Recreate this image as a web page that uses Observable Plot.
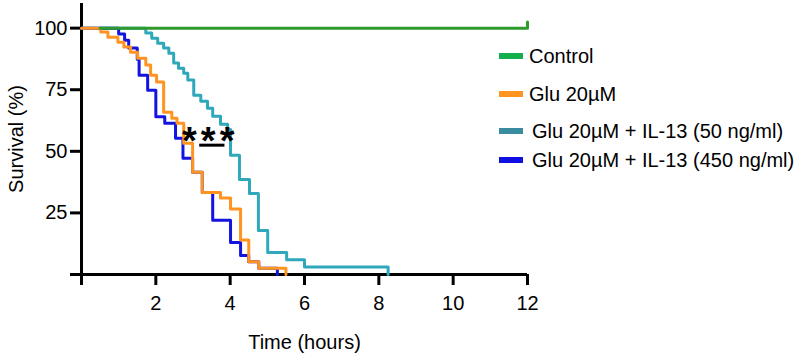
<!DOCTYPE html>
<html>
<head>
<meta charset="utf-8">
<script src="https://cdn.jsdelivr.net/npm/d3@7"></script>
<script src="https://cdn.jsdelivr.net/npm/@observablehq/plot@0.6"></script>
<style>
  html, body { margin: 0; padding: 0; background: #fff; }
  #wrap { position: relative; width: 803px; height: 356px; font-family: "Liberation Sans", Arial, sans-serif; }
  .lg { position: absolute; font-size: 20px; line-height: 22px; color: #000; white-space: nowrap; }
  .sw { position: absolute; width: 24px; height: 6px; }
</style>
</head>
<body>
<div id="wrap"></div>
<script>
// ---- data (time in hours, survival in %) ----
const seriesNames = ["Control", "Glu 20µM", "Glu 20µM + IL-13 (50 ng/ml)", "Glu 20µM + IL-13 (450 ng/ml)"];
const lineColors = ["#2f9a2c", "#ff9520", "#2fa8bb", "#1414e0"];
const swatchColors = ["#14ae4f", "#ff9520", "#3a8c9f", "#1010e0"];

const control = [[0.5, 100], [12, 100], [12, 102.5]];
const glu20 = [[0,100],[0.52,98.4],[0.71,96.3],[0.98,94.3],[1.14,92.3],[1.32,90.2],[1.51,87.8],[1.73,85.0],[1.86,80.9],[2.02,78.1],[2.21,65.9],[2.43,63.4],[2.57,61.4],[2.75,53.3],[2.99,41.5],[3.25,33.3],[3.74,31.1],[4.01,26.6],[4.28,14.0],[4.50,5.2],[4.77,2.5],[5.50,0]];
const il13_50 = [[0,100],[1.73,98.0],[1.89,95.9],[2.05,93.9],[2.21,91.9],[2.35,89.8],[2.48,85.8],[2.61,83.7],[2.75,81.7],[2.86,78.9],[3.02,72.8],[3.21,70.3],[3.39,67.5],[3.53,64.2],[3.74,61.0],[3.93,58.9],[4.01,48.4],[4.25,38.6],[4.52,32.9],[4.76,17.9],[5.01,8.9],[5.52,6.0],[6.00,3.0],[8.25,0]];
const il13_450 = [[0,100],[1.00,97.6],[1.16,95.1],[1.27,91.9],[1.50,87.4],[1.55,80.9],[1.78,74.8],[2.00,64.0],[2.24,61.4],[2.53,55.3],[2.73,47.2],[2.99,41.5],[3.25,33.3],[3.53,22.0],[4.01,13.0],[4.28,7.7],[4.50,5.2],[4.77,2.5],[5.27,0]];

const xTicks = [0, 2, 4, 6, 8, 10, 12];
const yTicks = [0, 25, 50, 75, 100];
const sigStars = [[2.90, 57], [3.41, 57], [3.92, 57]];
const sigBar = [[3.18, 3.86, 52.5]];

// legend label y centers (px) for layout
const legendY = [56, 94, 131, 160];
const legendTextX = [529, 529, 532, 532];

const toRows = (arr, name) => arr.map(([t, s]) => ({t, s, name}));

const plot = Plot.plot({
  width: 803,
  height: 356,
  marginLeft: 81,
  marginRight: 276,
  marginTop: 3,
  marginBottom: 82,
  x: {domain: [0, 12]},
  y: {domain: [0, 110]},
  style: {fontFamily: "'Liberation Sans', Arial, sans-serif", fontSize: "20px", color: "#000", background: "#fff"},
  marks: [
    Plot.axisX({ticks: xTicks, tickSize: 11, tickPadding: 10, strokeWidth: 3, tickFormat: d => d === 0 ? "" : d,
      label: "Time (hours)", labelAnchor: "center", labelArrow: "none", labelOffset: 74}),
    Plot.axisY({ticks: yTicks, tickSize: 11, tickPadding: 3, strokeWidth: 3, tickFormat: d => d === 0 ? "" : d,
      label: "Survival (%)", labelAnchor: "center", labelArrow: "none", labelOffset: 73}),
    Plot.ruleY([0], {stroke: "#000", strokeWidth: 3}),
    Plot.ruleX([0], {stroke: "#000", strokeWidth: 3}),
    Plot.line(toRows(il13_50, seriesNames[2]), {x: "t", y: "s", curve: "step-after", stroke: lineColors[2], strokeWidth: 3}),
    Plot.line(toRows(il13_450, seriesNames[3]), {x: "t", y: "s", curve: "step-after", stroke: lineColors[3], strokeWidth: 3}),
    Plot.line(toRows(glu20, seriesNames[1]), {x: "t", y: "s", curve: "step-after", stroke: lineColors[1], strokeWidth: 3}),
    Plot.line(toRows(control, seriesNames[0]), {x: "t", y: "s", curve: "step-after", stroke: lineColors[0], strokeWidth: 3}),
    Plot.text(sigStars, {x: d => d[0], y: d => d[1], text: () => "*", fontSize: 38, fontWeight: "bold", fill: "#000", dy: 8}),
    Plot.ruleY(sigBar, {x1: d => d[0], x2: d => d[1], y: d => d[2], stroke: "#000", strokeWidth: 3})
  ]
});

const wrap = document.getElementById("wrap");
wrap.appendChild(plot);

seriesNames.forEach((name, i) => {
  const sw = document.createElement("div");
  sw.className = "sw";
  sw.style.left = "499px";
  sw.style.top = (legendY[i] - 3) + "px";
  sw.style.background = swatchColors[i];
  wrap.appendChild(sw);
  const lb = document.createElement("div");
  lb.className = "lg";
  lb.style.left = legendTextX[i] + "px";
  lb.style.top = (legendY[i] - 11) + "px";
  lb.textContent = name;
  wrap.appendChild(lb);
});
</script>
</body>
</html>
